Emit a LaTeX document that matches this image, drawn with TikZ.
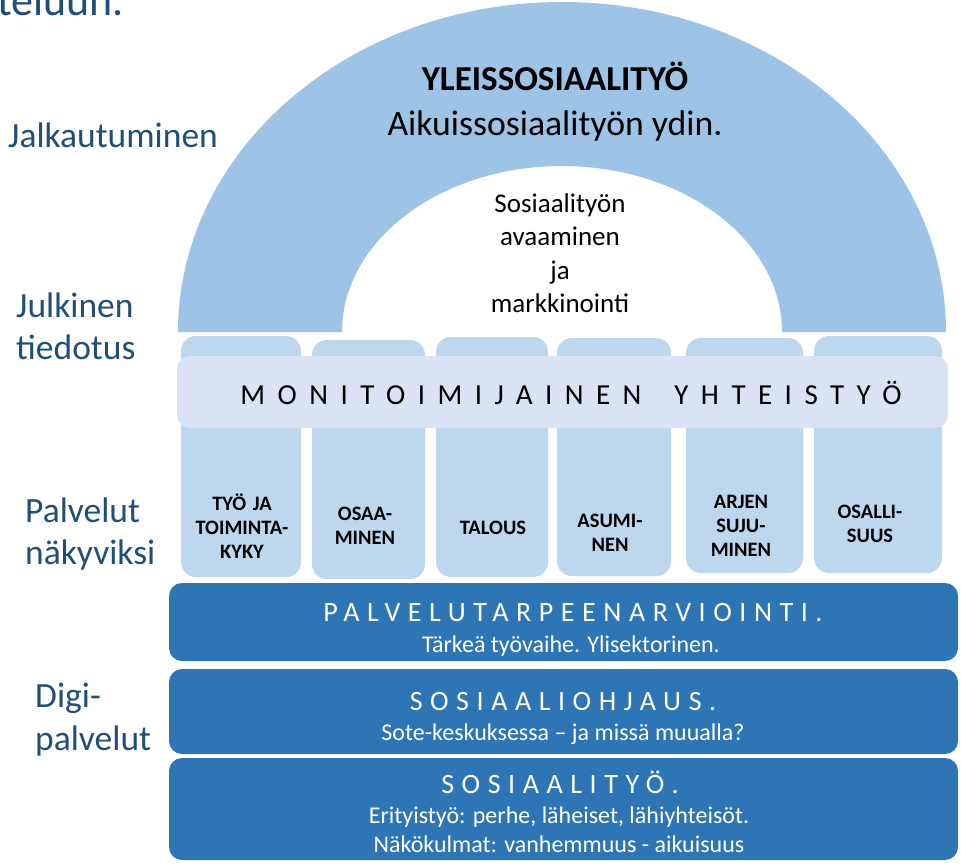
\documentclass[tikz,border=0pt]{standalone}
\usepackage{fontspec}
\setmainfont{Carlito}
\newfontfamily\wideA[LetterSpace=43]{Carlito}
\newfontfamily\wideB[LetterSpace=27]{Carlito}
\definecolor{archc}{HTML}{9DC3E6}
\definecolor{pillc}{HTML}{BDD7EE}
\definecolor{bandc}{HTML}{DAE3F3}
\definecolor{barc}{HTML}{2E75B6}
\definecolor{labc}{HTML}{1F4E79}
\begin{document}
\begin{tikzpicture}[x=1pt,y=-1pt,
  lab/.style={text=labc,font=\fontsize{35.5}{42}\selectfont,anchor=base west,inner sep=0pt},
  pillar/.style={fill=pillc,rounded corners=15pt},
  barbox/.style={fill=barc,rounded corners=13pt},
  plab/.style={font=\fontsize{20.5}{24}\selectfont\bfseries,text width=120pt,align=center,anchor=base,inner sep=0pt},
  ttl/.style={text=white,font=\fontsize{28}{32}\selectfont\wideB,anchor=base,inner sep=0pt},
  sub/.style={text=white,font=\fontsize{24}{28}\selectfont,anchor=base,inner sep=0pt}]
\useasboundingbox (0,0) rectangle (961,865);
\clip (0,0) rectangle (961,865);
% partial title
\node[lab,font=\fontsize{44}{50}\selectfont] (tel) at (-3,15) {teluun.};
% left labels
\node[lab] (jalk) at (8,147) {Jalkautuminen};
\node[lab] (julk1) at (16,317) {Julkinen};
\node[lab] (julk2) at (16,359) {tiedotus};
\node[lab] (palv1) at (25,522) {Palvelut};
\node[lab] (palv2) at (25,564) {näkyviksi};
\node[lab] (digi1) at (35,707) {Digi-};
\node[lab] (digi2) at (35,750) {palvelut};
% arch
\fill[archc] (178,332) arc[x radius=384pt,y radius=330pt,start angle=180,end angle=0]
  -- (782,332) arc[x radius=220pt,y radius=166pt,start angle=0,end angle=180] -- cycle;
\node[font=\fontsize{35}{40}\selectfont\bfseries,anchor=base,inner sep=0pt] (yleis) at (555,90) {YLEISSOSIAALITYÖ};
\node[font=\fontsize{35.7}{42}\selectfont,anchor=base,inner sep=0pt] (aikuis) at (555,135) {Aikuissosiaalityön ydin.};
\node[font=\fontsize{27}{33.5}\selectfont,text width=200pt,align=center,anchor=base,inner sep=0pt] (avaa) at (560,212) {Sosiaalityön\\avaaminen\\ja\\markkinointi};
% pillars
\fill[pillar] (181,336) rectangle (301,577);
\fill[pillar] (312,340) rectangle (425,579);
\fill[pillar] (436,337) rectangle (548,577);
\fill[pillar] (557,338) rectangle (671,576);
\fill[pillar] (686,338) rectangle (803,573);
\fill[pillar] (814,336) rectangle (942,573);
% band
\fill[bandc,rounded corners=13pt] (177,356) rectangle (948,428);
\node[font=\fontsize{29}{34}\selectfont\wideA,anchor=base,inner sep=0pt] (monit) at (571,404) {MONITOIMIJAINEN\hspace{33pt}YHTEISTYÖ};
% pillar labels
\node[plab] (p1) at (242,510) {TYÖ JA\\TOIMINTA-\\KYKY};
\node[plab] (p2) at (365,520) {OSAA-\\MINEN};
\node[plab] (p3) at (493,534) {TALOUS};
\node[plab] (p4) at (610,527) {ASUMI-\\NEN};
\node[plab] (p5) at (741,508) {ARJEN\\SUJU-\\MINEN};
\node[plab] (p6) at (870,518) {OSALLI-\\SUUS};
% bars
\fill[barbox] (169,583) rectangle (958,661);
\fill[barbox] (169,669) rectangle (958,754);
\fill[barbox] (169,758) rectangle (958,860);
\node[ttl] (t1) at (573,621) {PALVELUTARPEENARVIOINTI.};
\node[sub] (s1) at (571,652) {Tärkeä työvaihe. Ylisektorinen.};
\node[ttl] (t2) at (563,710) {SOSIAALIOHJAUS.};
\node[sub] (s2) at (563,740) {Sote-keskuksessa – ja missä muualla?};
\node[ttl] (t3) at (560,793) {SOSIAALITYÖ.};
\node[sub] (s3) at (559,823) {Erityistyö: perhe, läheiset, lähiyhteisöt.};
\node[sub] (s4) at (559,852) {Näkökulmat: vanhemmuus - aikuisuus};
\end{tikzpicture}
\end{document}
